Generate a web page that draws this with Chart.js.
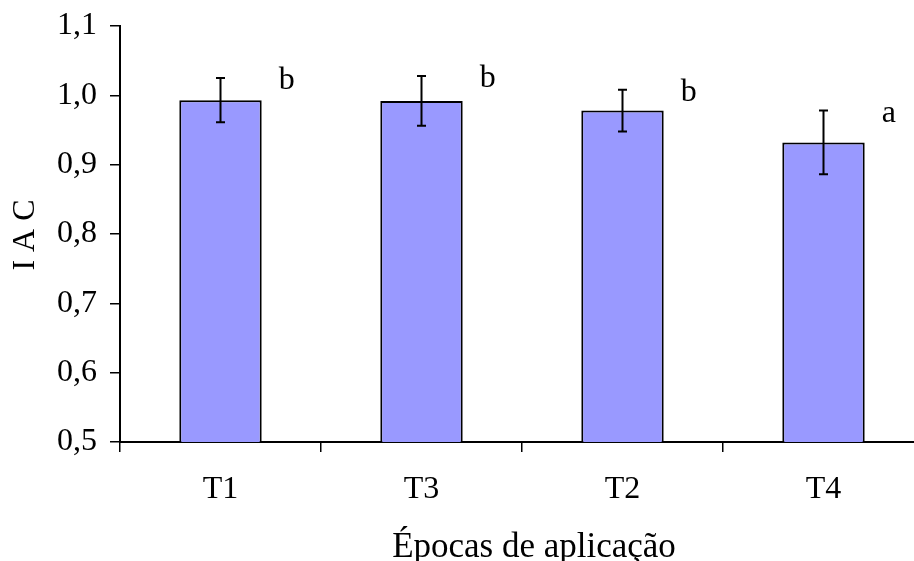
<!DOCTYPE html>
<html>
<head>
<meta charset="utf-8">
<script src="https://cdn.jsdelivr.net/npm/chart.js@4"></script>
<style>
  html, body { margin: 0; padding: 0; background: #fff; overflow: hidden; }
  #wrap { width: 924px; height: 561px; }
</style>
</head>
<body>
<div id="wrap"><canvas id="iacChart"></canvas></div>
<script>
// treatments as ordered in the figure
const categories = ["T1", "T3", "T2", "T4"];
const iacMeans = [0.993, 0.992, 0.978, 0.932];
const iacErrors = [0.032, 0.036, 0.030, 0.046];
const groupLetters = ["b", "b", "b", "a"];
const yTicks = [0.5, 0.6, 0.7, 0.8, 0.9, 1.0, 1.1];

const serif = "'Liberation Serif', 'Times New Roman', serif";

// error bars + letters of the Tukey test
const errorBarPlugin = {
	id: "errorBars",
	afterDatasetsDraw(chart) {
		const ctx = chart.ctx;
		const yScale = chart.scales.y;
		const xScale = chart.scales.x;
		const meta = chart.getDatasetMeta(0);
		const catWidth = xScale.width / categories.length;
		ctx.save();
		ctx.strokeStyle = "#000";
		ctx.lineWidth = 2;
		meta.data.forEach((bar, i) => {
			const x = bar.x;
			const top = yScale.getPixelForValue(iacMeans[i] + iacErrors[i]);
			const bottom = yScale.getPixelForValue(iacMeans[i] - iacErrors[i]);
			ctx.beginPath();
			ctx.moveTo(x, top);
			ctx.lineTo(x, bottom);
			ctx.moveTo(x - 4.5, top);
			ctx.lineTo(x + 4.5, top);
			ctx.moveTo(x - 4.5, bottom);
			ctx.lineTo(x + 4.5, bottom);
			ctx.stroke();

			ctx.fillStyle = "#000";
			ctx.font = "32px " + serif;
			ctx.textAlign = "left";
			ctx.textBaseline = "alphabetic";
			ctx.fillText(groupLetters[i], x + catWidth * 0.29, top + 11);
		});
		ctx.restore();
	}
};

// axis titles drawn by hand to sit where the original has them
const axisTitlePlugin = {
	id: "axisTitles",
	afterDraw(chart) {
		const ctx = chart.ctx;
		ctx.save();
		ctx.fillStyle = "#000";
		ctx.font = "35px " + serif;
		ctx.textAlign = "center";
		ctx.textBaseline = "alphabetic";
		ctx.fillText("Épocas de aplicação", 534, 557);

		ctx.translate(26, 235);
		ctx.rotate(-Math.PI / 2);
		ctx.font = "32px " + serif;
		ctx.textBaseline = "middle";
		ctx.fillText("I A C", 0, 0);
		ctx.restore();
	}
};

const ctx = document.getElementById("iacChart");
new Chart(ctx, {
	type: "bar",
	data: {
		labels: categories,
		datasets: [{
			data: iacMeans,
			backgroundColor: "#9999ff",
			borderColor: "#000",
			borderWidth: 2,
			borderSkipped: "bottom",
			barPercentage: 0.41,
			categoryPercentage: 1
		}]
	},
	options: {
		responsive: true,
		maintainAspectRatio: false,
		animation: false,
		layout: { padding: { top: 26, right: 0, left: 0, bottom: 0 } },
		plugins: {
			legend: { display: false },
			tooltip: { enabled: false }
		},
		scales: {
			x: {
				grid: {
					display: true,
					offset: true,
					drawOnChartArea: false,
					drawTicks: true,
					tickLength: 10,
					color: "#000",
					lineWidth: 1.5
				},
				border: { display: true, color: "#000", width: 2 },
				ticks: {
					color: "#000",
					font: { family: serif, size: 32 },
					padding: 18
				},
				afterFit(scale) {
					scale.height = 119;
					scale.paddingLeft = 0;
					scale.paddingRight = 0;
				}
			},
			y: {
				min: 0.5,
				max: 1.1,
				afterBuildTicks(scale) {
					scale.ticks = yTicks.map(v => ({ value: v }));
				},
				grid: {
					display: true,
					drawOnChartArea: false,
					drawTicks: true,
					tickLength: 10,
					color: "#000",
					lineWidth: 1.5
				},
				border: { display: true, color: "#000", width: 2 },
				ticks: {
					color: "#000",
					font: { family: serif, size: 32 },
					padding: 13,
					callback: (v) => Number(v).toFixed(1).replace(".", ",")
				},
				afterFit(scale) {
					scale.width = 120;
					scale.paddingTop = 0;
					scale.paddingBottom = 0;
				}
			}
		}
	},
	plugins: [errorBarPlugin, axisTitlePlugin]
});
</script>
</body>
</html>
